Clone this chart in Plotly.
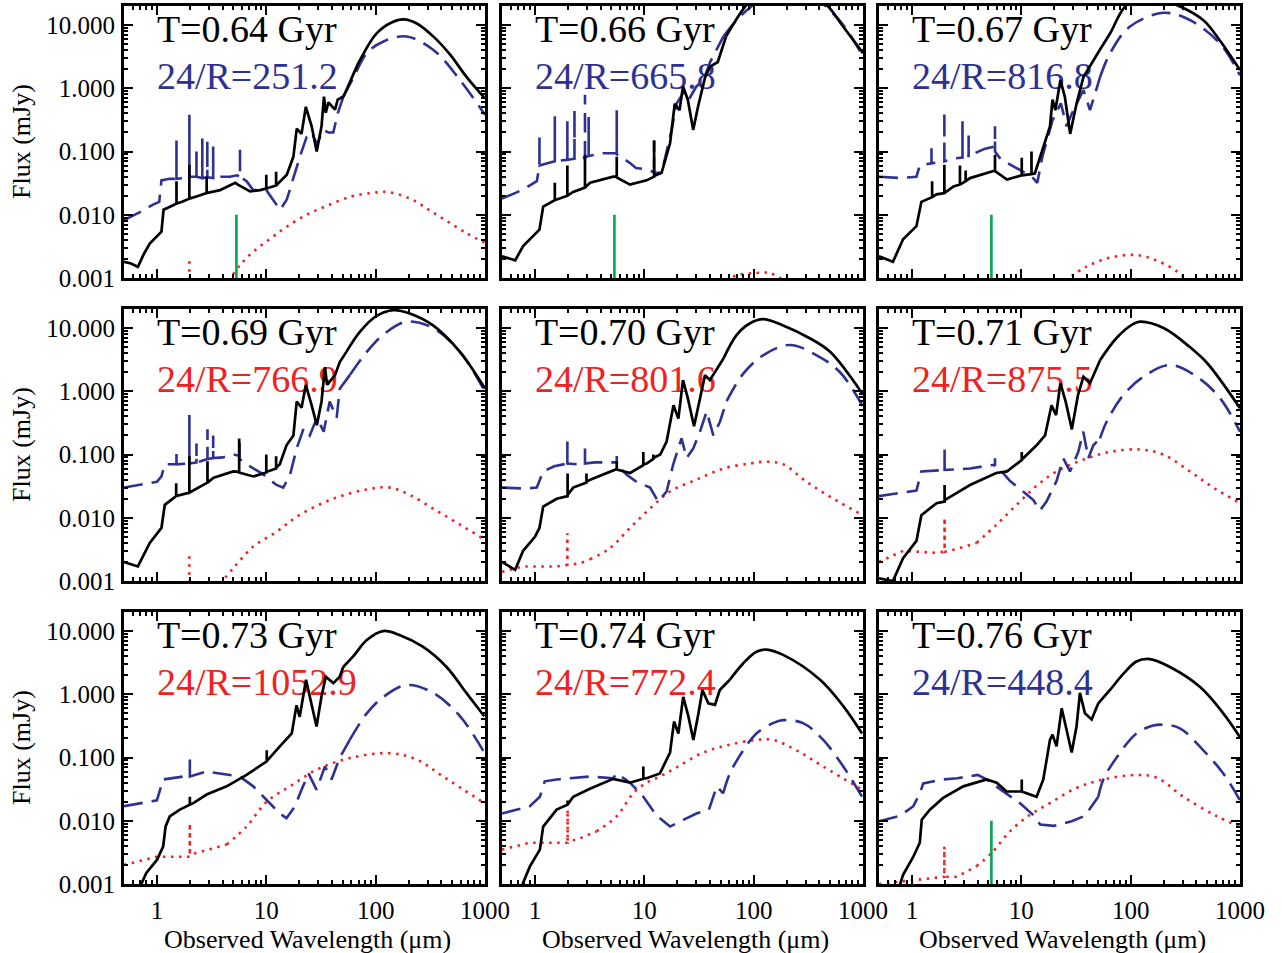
import math
import plotly.graph_objects as go

# ---------------- data (wavelength in micron, flux in mJy) ----------------
T_LABELS = ["T=0.64 Gyr", "T=0.66 Gyr", "T=0.67 Gyr",
            "T=0.69 Gyr", "T=0.70 Gyr", "T=0.71 Gyr",
            "T=0.73 Gyr", "T=0.74 Gyr", "T=0.76 Gyr"]
RATIO_LABELS = ["24/R=251.2", "24/R=665.8", "24/R=816.8",
                "24/R=766.9", "24/R=801.6", "24/R=875.5",
                "24/R=1052.9", "24/R=772.4", "24/R=448.4"]
RATIO_KIND = ["blue", "blue", "blue", "red", "red", "red", "red", "red", "blue"]
GREEN_PANELS = [1, 2, 3, 9]
GREEN_WL = [5.33, 5.33]
GREEN_FLUX = [0.001, 0.010]

X_TICKS = [1, 10, 100, 1000]
X_TICKTEXT = ["1", "10", "100", "1000"]
Y_TICKS = [0.001, 0.01, 0.1, 1, 10]
Y_TICKTEXT = ["0.001", "0.010", "0.100", "1.000", "10.000"]

p1_black = [(0.50,0.0018),(0.58,0.0017),(0.67,0.0015),(0.76,0.0024),(0.86,0.0035),(1.0,0.0045),(1.10,0.0054),
            (1.15,0.012),(1.31,0.0135),(1.51,0.015),(1.51,0.034),(1.51,0.015),(1.70,0.016),(1.98,0.018),(1.98,0.062),
            (1.98,0.018),(2.3,0.0195),(2.85,0.022),(2.85,0.04),(2.85,0.022),(3.77,0.0245),(5.2,0.032),(5.5,0.030),
            (7.1,0.0234),(8.8,0.0245),(10.0,0.026),(10.0,0.043),(10.0,0.026),(12.3,0.029),(12.3,0.048),(12.3,0.029),
            (15.4,0.043),(17.7,0.083),(19,0.23),(21,0.19),(23,0.51),(26,0.25),(28.9,0.10),(32,0.25),(33.7,0.74),
            (35,0.41),(37,0.6),(42.5,0.46),(45,0.66),(50.7,0.74),(55,1.0),(72,2.8),(102,7.4),(140,11.0),(180,12.3),
            (238,10.6),(340,6.5),(480,3.4),(680,1.5),(1000,0.69)]
p1_blue = [(0.5,0.0082),(0.7,0.011),(0.92,0.0145),(1.05,0.016),(1.10,0.035),(1.3,0.037),(1.51,0.037),(1.51,0.15),
           (1.51,0.037),(1.75,0.038),(1.98,0.04),(1.98,0.38),(1.98,0.04),(2.3,0.04),(2.3,0.1),(2.3,0.04),(2.6,0.038),
           (2.6,0.16),(2.6,0.038),(2.89,0.039),(2.89,0.15),(2.89,0.039),(3.27,0.038),(3.27,0.12),(3.27,0.038),
           (3.77,0.04),(4.65,0.04),(5.4,0.042),(5.75,0.04),(5.75,0.12),(5.75,0.04),(6.6,0.034),(7.6,0.0245),
           (10,0.0245),(11.6,0.0174),(13.4,0.012),(15.4,0.0174),(17.7,0.04),(20.3,0.083),(23.4,0.17),(26,0.2),
           (29,0.13),(33.3,0.22),(37,0.2),(41,0.2),(45,0.4),(50.7,0.74),(63,1.5),(83,3.6),(118,5.5),(192,6.6),
           (340,4.0),(590,1.35),(1000,0.38)]
p1_red = [(1.98,0.0007),(1.98,0.0019),(None,None),(4.5,0.0009),(5.75,0.0016),(7.6,0.0026),(11.1,0.0043),
          (15.4,0.0065),(23.4,0.010),(35.7,0.0138),(60,0.0195),(90,0.022),(126,0.023),(206,0.018),(340,0.0107),
          (680,0.0051),(1000,0.0036)]

p2_black = [(0.5,0.0022),(0.66,0.0019),(0.78,0.0032),(0.95,0.0045),(1.1,0.0058),(1.19,0.0135),(1.4,0.016),
            (1.52,0.017),(1.52,0.032),(1.52,0.017),(1.98,0.02),(1.98,0.06),(1.98,0.02),(2.24,0.023),(2.87,0.027),
            (2.87,0.089),(2.87,0.027),(3.2,0.032),(5.2,0.04),(5.6,0.04),(5.6,0.083),(5.6,0.039),(7.4,0.03),
            (10.5,0.035),(12.3,0.04),(12.3,0.15),(12.3,0.041),(14.4,0.046),(17.2,0.135),(19,0.57),(21,0.45),
            (22.6,1.07),(25,0.66),(28,0.22),(31,0.51),(36,1.5),(40,2.2),(47,2.6),(56,6.6),(86,20.8),(120,35),
            (180,45),(280,38),(465,20.8),(660,9.4),(1000,3.6)]
p2_blue = [(0.5,0.018),(0.78,0.025),(1.04,0.034),(1.1,0.058),(1.1,0.17),(1.1,0.06),(1.3,0.065),(1.52,0.07),
           (1.52,0.36),(1.52,0.07),(1.98,0.074),(1.98,0.3),(1.98,0.074),(2.3,0.077),(2.3,0.45),(2.3,0.077),
           (2.87,0.08),(2.87,0.79),(2.87,0.08),(3.1,0.085),(3.1,0.35),(3.1,0.085),(4.2,0.094),(5.6,0.094),
           (5.6,0.45),(5.6,0.09),(7.4,0.066),(8.4,0.055),(10.5,0.052),(12.3,0.047),(12.3,0.15),(12.3,0.046),
           (14.4,0.046),(15.8,0.094),(17.8,0.22),(19.7,0.57),(22.6,0.83),(25.5,0.66),(30,1.07),(34.7,1.35),
           (40,2.6),(53,6.6),(70,12),(99,20.8),(160,38),(300,40),(430,22),(660,10),(980,3.4)]
p2_red = [(56,0.0009),(70,0.0011),(107,0.0012),(140,0.0012),(193,0.0009)]

p3_black = [(0.5,0.0022),(0.67,0.0018),(0.83,0.0041),(1.0,0.0055),(1.1,0.0066),(1.22,0.016),(1.53,0.019),
            (1.53,0.034),(1.53,0.019),(1.68,0.021),(1.98,0.022),(1.98,0.062),(1.98,0.022),(2.4,0.028),(2.75,0.03),
            (2.75,0.06),(2.75,0.03),(3.1,0.034),(3.1,0.05),(3.1,0.034),(3.4,0.038),(5.5,0.05),(5.75,0.05),
            (5.75,0.089),(5.75,0.049),(7.4,0.036),(10.1,0.042),(10.1,0.08),(10.1,0.042),(12.4,0.044),(12.4,0.1),
            (12.4,0.044),(13.3,0.045),(16,0.12),(18.3,0.25),(19.3,0.66),(20.5,0.45),(22.8,1.35),(25,0.74),
            (28,0.19),(32,0.57),(37,1.5),(42,2.2),(52,4.0),(65,7.4),(92,20.8),(150,28),(264,20.8),(460,12),
            (650,5.8),(1000,1.94)]
p3_blue = [(0.5,0.04),(0.8,0.038),(1.1,0.04),(1.18,0.06),(1.51,0.065),(1.51,0.13),(1.51,0.065),(1.98,0.07),
           (1.98,0.43),(1.98,0.07),(2.5,0.078),(2.9,0.08),(2.9,0.3),(2.9,0.08),(3.3,0.085),(3.3,0.2),(3.3,0.085),
           (4.6,0.11),(5.5,0.12),(5.75,0.12),(5.75,0.25),(5.75,0.1),(6.5,0.075),(8.4,0.058),(12.5,0.04),(14,0.032),
           (15.6,0.083),(19.3,0.31),(23,0.58),(26,0.25),(29,0.4),(37,0.94),(42.5,0.45),(52.5,1.5),(65,3.6),
           (98,9.4),(200,15.6),(348,12),(656,5.1),(1000,1.6)]
p3_red = [(25,0.0009),(39,0.0015),(65,0.0021),(114,0.0023),(185,0.0018),(294,0.0011),(330,0.0008)]

p4_black = [(0.5,0.002),(0.67,0.0017),(0.86,0.004),(1.0,0.0055),(1.1,0.0069),(1.18,0.016),(1.5,0.022),(1.5,0.035),
            (1.5,0.022),(1.98,0.025),(1.98,0.094),(1.98,0.025),(2.15,0.027),(2.9,0.036),(2.9,0.078),(2.9,0.036),
            (3.3,0.043),(5.0,0.054),(5.65,0.053),(5.65,0.18),(5.65,0.052),(7.6,0.045),(10.0,0.052),(10.0,0.1),
            (10.0,0.053),(12.3,0.06),(12.3,0.094),(12.3,0.062),(13.3,0.07),(15.3,0.14),(17.7,0.2),(19,0.69),
            (21,0.55),(23,1.26),(26,0.6),(29,0.29),(32,0.69),(34.4,2.4),(36,1.26),(42.5,1.8),(47,2.9),(54,4.2),
            (72,8.8),(102,15.6),(145,19.2),(205,17),(335,11),(590,4.2),(1000,1.1)]
p4_blue = [(0.5,0.03),(0.7,0.033),(1.0,0.037),(1.1,0.045),(1.18,0.07),(1.51,0.07),(1.51,0.12),(1.51,0.07),
           (1.98,0.072),(1.98,0.42),(1.98,0.072),(2.3,0.075),(2.3,0.15),(2.3,0.075),(2.9,0.085),(2.9,0.25),
           (2.9,0.085),(3.27,0.088),(3.27,0.2),(3.27,0.088),(4.0,0.09),(5.0,0.1),(5.7,0.095),(5.7,0.18),(5.7,0.085),
           (6.6,0.07),(9.0,0.051),(12.4,0.033),(14.3,0.03),(16.5,0.048),(19,0.126),(22,0.26),(25,0.2),(29,0.38),
           (33.5,0.23),(38,0.69),(44,0.38),(47,1.1),(58,1.8),(83,4.2),(117,7.8),(190,12.6),(335,10),(590,4.2),
           (1000,0.98)]
p4_red = [(1.98,0.0007),(1.98,0.0026),(None,None),(3.77,0.0009),(5.0,0.0016),(7.6,0.0035),(12.4,0.006),
          (20,0.011),(41,0.02),(83,0.028),(135,0.03),(205,0.023),(335,0.014),(590,0.0078),(1000,0.0045)]

p5_black = [(0.5,0.002),(0.66,0.0015),(0.78,0.003),(1.0,0.005),(1.1,0.0069),(1.19,0.015),(1.58,0.02),(1.99,0.022),
            (1.99,0.05),(1.99,0.023),(2.24,0.03),(2.96,0.036),(2.96,0.05),(2.96,0.037),(3.2,0.04),(5.6,0.059),
            (5.6,0.078),(5.6,0.058),(7.4,0.051),(9.8,0.068),(9.8,0.11),(9.8,0.07),(10.5,0.072),(12.1,0.085),
            (12.1,0.1),(12.1,0.088),(14,0.1),(16,0.16),(18.5,0.6),(20.5,0.37),(22.6,1.5),(25,0.78),(28.5,0.28),
            (32,0.69),(35.9,1.8),(39.8,1.5),(53,3.3),(70,7.8),(92,11.8),(122,13.8),(186,11),(325,6.9),(500,4.2),
            (1000,0.88)]
p5_blue = [(0.5,0.03),(0.8,0.029),(1.04,0.03),(1.19,0.054),(1.5,0.065),(1.98,0.072),(1.98,0.16),(1.98,0.072),
           (2.5,0.07),(2.87,0.072),(2.87,0.125),(2.87,0.072),(3.5,0.075),(5.6,0.075),(5.6,0.095),(5.6,0.07),
           (6.9,0.048),(8.5,0.037),(11.3,0.03),(13.4,0.018),(16,0.026),(18.4,0.07),(21.9,0.18),(24.4,0.088),
           (28,0.124),(32.3,0.23),(37.2,0.48),(42.8,0.2),(49.2,0.33),(56.6,0.7),(80.4,1.9),(122,3.7),(215,5.4),
           (377,3.7),(617,2.0),(1000,0.57)]
p5_red = [(0.5,0.0014),(0.78,0.0017),(1.58,0.0017),(1.98,0.0018),(1.98,0.0057),(1.98,0.0018),(2.6,0.0019),
          (3.18,0.0022),(4.85,0.0033),(7.4,0.0069),(11.3,0.014),(17.2,0.026),(30,0.04),(52.7,0.06),(92.5,0.072),
          (131,0.077),(186,0.07),(305,0.037),(535,0.02),(1000,0.011)]

p6_black = [(0.5,0.0011),(0.67,0.001),(0.83,0.0023),(1.1,0.0043),(1.22,0.011),(1.68,0.017),(1.99,0.018),
            (1.99,0.033),(1.99,0.019),(2.4,0.023),(3.4,0.033),(5.9,0.051),(7.4,0.054),(10.1,0.082),(10.1,0.11),
            (10.1,0.084),(10.4,0.087),(13.8,0.14),(16.5,0.2),(18.9,0.6),(20.8,0.42),(22.8,1.34),(25.5,0.68),
            (29,0.25),(33,0.87),(37,1.7),(42.5,1.34),(52.5,3.1),(74,6.9),(105,11.5),(122,12.6),(200,10),(348,5.0),
            (500,2.8),(1000,0.54)]
p6_blue = [(0.5,0.022),(1.1,0.027),(1.22,0.054),(1.68,0.055),(1.99,0.057),(1.99,0.12),(1.99,0.057),(2.4,0.058),
           (3.4,0.06),(4.5,0.065),(5.75,0.069),(5.75,0.087),(5.75,0.066),(6.8,0.051),(7.9,0.038),(10.4,0.026),
           (12.9,0.019),(14.8,0.013),(17,0.018),(21,0.038),(24.2,0.087),(27.9,0.054),(33.2,0.11),(36.9,0.23),
           (41,0.087),(45.6,0.14),(52.5,0.18),(60.3,0.33),(85.7,0.87),(131,1.7),(229,2.6),(403,1.7),(656,0.78),
           (1000,0.23)]
p6_red = [(0.5,0.002),(0.83,0.003),(1.6,0.0028),(1.99,0.0029),(1.99,0.01),(1.99,0.0029),(2.56,0.0032),
          (3.9,0.004),(5.95,0.0078),(9.06,0.016),(13.8,0.032),(21,0.054),(37,0.083),(65,0.11),(122,0.12),
          (199,0.1),(348,0.054),(570,0.03),(1000,0.017)]

p7_black = [(0.70,0.0009),(0.8,0.0015),(1.0,0.0024),(1.14,0.0039),(1.2,0.0081),(1.31,0.0117),(1.62,0.015),
            (2.0,0.018),(2.0,0.024),(2.0,0.018),(2.15,0.019),(2.85,0.026),(4.34,0.035),(6.6,0.053),(10.1,0.087),
            (10.1,0.13),(10.1,0.088),(13.3,0.15),(17.1,0.24),(18.9,0.67),(20.2,0.44),(23.1,1.7),(26,0.65),
            (28.8,0.31),(32,0.93),(35,1.9),(41,1.5),(47,1.9),(50.5,2.7),(62.6,4.0),(83,7.2),(117,10),(167,8.6),
            (272,5.6),(445,2.7),(675,1.05),(985,0.45)]
p7_blue = [(0.5,0.017),(1.0,0.021),(1.14,0.045),(1.74,0.05),(2.0,0.05),(2.0,0.093),(2.0,0.05),(2.85,0.06),
           (4.34,0.053),(5.74,0.05),(7.6,0.035),(10.1,0.021),(13.3,0.013),(15.3,0.011),(18.3,0.017),(21,0.031),
           (24.3,0.056),(28.8,0.031),(34.4,0.072),(39.5,0.045),(47,0.1),(58,0.19),(83,0.5),(117,0.9),(192,1.4),
           (337,1.05),(590,0.45),(985,0.12)]
p7_red = [(0.5,0.002),(1.0,0.0027),(1.9,0.0027),(2.0,0.0027),(2.0,0.0091),(2.0,0.0029),(4.34,0.0042),
          (6.6,0.0081),(10.1,0.02),(16.5,0.035),(28.8,0.064),(58,0.098),(135,0.117),(237,0.093),(415,0.05),
          (985,0.019)]

p8_black = [(0.72,0.0007),(0.78,0.00105),(0.9,0.0019),(1.11,0.0035),(1.19,0.0081),(1.58,0.015),(1.99,0.018),
            (1.99,0.021),(1.99,0.018),(2.24,0.024),(3.18,0.032),(5.2,0.046),(7.4,0.04),(9.8,0.046),(9.8,0.072),
            (9.8,0.047),(10.5,0.047),(13.9,0.056),(17.2,0.12),(18.7,0.37),(20.5,0.24),(22.7,0.91),(25.3,0.45),
            (28.1,0.19),(31.3,0.5),(34,1.17),(38.5,0.72),(44.3,0.68),(49,1.17),(60.6,1.7),(80.5,3.1),(106,4.7),
            (131,5.1),(186,4.2),(405,1.7),(660,0.65),(980,0.24)]
p8_blue = [(0.5,0.013),(0.9,0.017),(1.11,0.024),(1.23,0.042),(1.58,0.045),(2.24,0.047),(3.18,0.05),(5.2,0.047),
           (5.6,0.056),(7.4,0.04),(9.8,0.024),(13,0.012),(17.2,0.0081),(22.7,0.0103),(30,0.013),(39,0.015),
           (46,0.035),(52.6,0.027),(60.6,0.056),(80.5,0.13),(106,0.24),(150,0.35),(186,0.39),(283,0.35),
           (433,0.19),(660,0.072),(980,0.024)]
p8_red = [(0.5,0.0035),(0.9,0.0045),(1.85,0.0045),(1.99,0.0045),(1.99,0.015),(1.99,0.0048),(2.4,0.005),
          (3.66,0.0068),(5.58,0.0117),(7.9,0.027),(10.5,0.04),(13.9,0.05),(19.8,0.07),(34.6,0.12),(60.6,0.16),
          (106,0.19),(151,0.19),(246,0.13),(433,0.072),(980,0.031)]

p9_black = [(0.75,0.0008),(0.83,0.0014),(1.03,0.0027),(1.18,0.0045),(1.23,0.0104),(1.46,0.015),(1.93,0.023),
            (2.95,0.035),(4.82,0.045),(5.95,0.04),(7.35,0.029),(9.7,0.029),(10.1,0.029),(10.1,0.045),(10.1,0.029),
            (13.8,0.024),(15.9,0.045),(18.3,0.19),(19.3,0.23),(21,0.15),(23.4,0.6),(26,0.27),(28.9,0.12),(32,0.31),
            (34.4,1.05),(38.2,0.5),(44,0.4),(50.6,0.72),(64.8,1.17),(85.6,2.1),(113,3.3),(150,3.6),(229,2.7),
            (432,1.3),(703,0.5),(1000,0.21)]
p9_blue = [(0.5,0.0098),(0.78,0.012),(1.03,0.017),(1.18,0.027),(1.27,0.039),(1.93,0.045),(2.6,0.047),(4.0,0.053),
           (4.8,0.045),(7.35,0.027),(9.7,0.019),(12.8,0.0124),(14.9,0.0087),(19.8,0.0083),(28.9,0.0098),
           (38.2,0.012),(50.6,0.024),(56.3,0.045),(74.5,0.1),(113,0.24),(161,0.32),(199,0.33),(282,0.29),
           (462,0.13),(703,0.056),(1000,0.021)]
p9_red = [(0.5,0.001),(0.83,0.0011),(1.8,0.0013),(1.98,0.0013),(1.98,0.0039),(1.98,0.0013),(2.56,0.0013),
          (3.9,0.0019),(5.36,0.0031),(7.88,0.0068),(12,0.0124),(18.3,0.019),(32,0.033),(56.3,0.045),(113,0.053),
          (174,0.048),(303,0.024),(614,0.0118),(1000,0.0081)]

BLACK = [p1_black, p2_black, p3_black, p4_black, p5_black, p6_black, p7_black, p8_black, p9_black]
BLUE = [p1_blue, p2_blue, p3_blue, p4_blue, p5_blue, p6_blue, p7_blue, p8_blue, p9_blue]
RED = [p1_red, p2_red, p3_red, p4_red, p5_red, p6_red, p7_red, p8_red, p9_red]

# ---------------- styling ----------------
W, H = 1282, 953
COL_PX = [(124, 485), (502, 863), (879, 1240)]
ROW_PX = [(6, 278), (309, 581), (612, 884)]
C_BLACK = "#000000"
C_BLUE = "#2E3192"
C_RED = "#EE2222"
C_GREEN = "#00A651"
FONT = "Liberation Serif"
LABEL_T_Y = 7.5
LABEL_R_Y = 1.4
SMOOTH_FROM = {"black": 50, "blue": 50, "red": 3}

minor_x = [k * 10 ** e for e in range(-1, 3) for k in range(2, 10) if 0.5 < k * 10 ** e < 1000]
minor_y = [k * 10 ** e for e in range(-3, 1) for k in range(2, 10)]

fig = go.Figure()
layout = dict(width=W, height=H, margin=dict(l=0, r=0, t=0, b=0, pad=0, autoexpand=False), autosize=False,
              paper_bgcolor="white", plot_bgcolor="white", showlegend=False,
              font=dict(family=FONT, color="black"))
annotations = []


def split_curve(pairs, thresh):
    """Split into a jagged (linear) part and a smooth (spline) tail."""
    idx = None
    for k, (w, f) in enumerate(pairs):
        if w is None:
            idx = None
            continue
        if w >= thresh and idx is None:
            idx = k
    if idx is None:
        return pairs, []
    return pairs[:idx + 1], pairs[idx:]


def add_curve(pairs, kind, line, xa, ya):
    head, tail = split_curve(pairs, SMOOTH_FROM[kind])
    if len(head) > 1:
        fig.add_trace(go.Scatter(x=[p[0] for p in head], y=[p[1] for p in head], mode="lines",
                                 connectgaps=False, line=dict(**line, shape="linear"),
                                 xaxis=xa, yaxis=ya, hoverinfo="skip"))
    if len(tail) > 1:
        fig.add_trace(go.Scatter(x=[p[0] for p in tail], y=[p[1] for p in tail], mode="lines",
                                 line=dict(**line, shape="spline", smoothing=1.0),
                                 xaxis=xa, yaxis=ya, hoverinfo="skip"))


for i in range(9):
    r, c = divmod(i, 3)
    n = i + 1
    xa = "x" if n == 1 else f"x{n}"
    ya = "y" if n == 1 else f"y{n}"
    x0, x1 = COL_PX[c]
    y0, y1 = ROW_PX[r]
    xdom = [x0 / W, x1 / W]
    ydom = [1 - y1 / H, 1 - y0 / H]
    axkey_x = "xaxis" if n == 1 else f"xaxis{n}"
    axkey_y = "yaxis" if n == 1 else f"yaxis{n}"
    layout[axkey_x] = dict(
        type="log", range=[math.log10(0.5), 3], domain=xdom, anchor=ya, automargin=False,
        showline=True, linewidth=3, linecolor="black", mirror="allticks",
        ticks="inside", ticklen=9, tickwidth=2, tickcolor="black",
        tickmode="array", tickvals=X_TICKS, ticktext=X_TICKTEXT,
        showticklabels=(r == 2), tickfont=dict(family=FONT, size=25, color="black"),
        ticklabelstandoff=2,
        minor=dict(ticks="inside", ticklen=4, tickwidth=1.5, tickcolor="black",
                   tickmode="array", tickvals=minor_x, showgrid=False),
        showgrid=False, zeroline=False)
    layout[axkey_y] = dict(
        type="log", range=[-3, math.log10(20)], domain=ydom, anchor=xa, automargin=False,
        showline=True, linewidth=3, linecolor="black", mirror="allticks",
        ticks="inside", ticklen=9, tickwidth=2, tickcolor="black",
        tickmode="array", tickvals=Y_TICKS, ticktext=Y_TICKTEXT,
        showticklabels=(c == 0), tickfont=dict(family=FONT, size=25, color="black"),
        ticklabelstandoff=1,
        minor=dict(ticks="inside", ticklen=4, tickwidth=1.5, tickcolor="black",
                   tickmode="array", tickvals=minor_y, showgrid=False),
        showgrid=False, zeroline=False)

    # text labels drawn first so curves lie on top
    rc = C_BLUE if RATIO_KIND[i] == "blue" else C_RED
    fig.add_trace(go.Scatter(x=[1, 1], y=[LABEL_T_Y, LABEL_R_Y], mode="text",
                             text=[T_LABELS[i], RATIO_LABELS[i]], textposition="middle right",
                             textfont=dict(family=FONT, size=38, color=["black", rc]),
                             xaxis=xa, yaxis=ya, hoverinfo="skip"))
    add_curve(RED[i], "red", dict(color=C_RED, width=2.6, dash="2.5px,5.5px"), xa, ya)
    add_curve(BLUE[i], "blue", dict(color=C_BLUE, width=2.6, dash="19px,9px"), xa, ya)
    add_curve(BLACK[i], "black", dict(color=C_BLACK, width=2.7), xa, ya)
    if n in GREEN_PANELS:
        fig.add_trace(go.Scatter(x=GREEN_WL, y=GREEN_FLUX, mode="lines",
                                 line=dict(color=C_GREEN, width=2.6),
                                 xaxis=xa, yaxis=ya, hoverinfo="skip"))

    if c == 0:
        annotations.append(dict(text="Flux (mJy)", xref="paper", yref="paper",
                                x=21 / W, y=1 - (y0 + y1) / 2 / H, showarrow=False,
                                textangle=-90, xanchor="center", yanchor="middle",
                                font=dict(family=FONT, size=26, color="black")))
    if r == 2:
        annotations.append(dict(text="Observed Wavelength (\u03bcm)", xref="paper", yref="paper",
                                x=((x0 + x1) / 2 + 2.5) / W, y=1 - 939 / H, showarrow=False,
                                xanchor="center", yanchor="middle",
                                font=dict(family=FONT, size=26, color="black")))

layout["annotations"] = annotations
fig.update_layout(**layout)
fig.write_html("out.html", config={"responsive": False, "displayModeBar": False})
